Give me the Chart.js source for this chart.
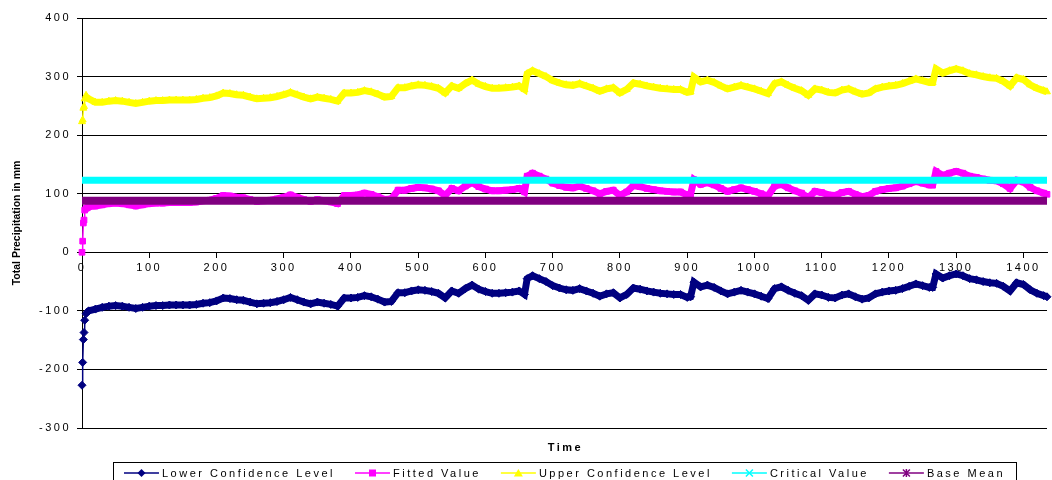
<!DOCTYPE html>
<html>
<head>
<meta charset="utf-8">
<script src="https://cdn.jsdelivr.net/npm/chart.js@4.4.0/dist/chart.umd.min.js"></script>
<style>
  html, body { margin: 0; padding: 0; background: #fff; }
</style>
</head>
<body>
<canvas id="precipChart" width="1052" height="480"></canvas>
<script>
// Time steps
const times = [0,1,2,3,4,6,8,
  10,20,30,40,50,60,70,80,90,100,110,120,130,140,150,160,170,180,190,200,
  210,220,230,240,250,260,270,280,290,300,310,320,330,340,350,360,370,380,390,400,
  410,420,430,440,450,460,470,480,490,500,510,520,530,540,550,560,570,580,590,600,
  610,620,630,640,650,658,662,670,680,690,700,710,720,730,740,750,760,
  770,780,790,800,810,820,830,840,850,860,870,880,890,900,905,
  910,920,930,940,950,960,970,980,990,1000,1010,1020,1030,1040,1050,1060,1070,1080,1090,1100,
  1110,1120,1130,1140,1150,1160,1170,1180,1190,1200,1210,1220,1230,1240,1250,1260,1265,
  1270,1280,1290,1300,1310,1320,1330,1340,1350,1360,1370,1380,1390,1400,1410,1420,1430,1435];

const lowerConfidence = [-227,-188,-149,-137,-116,-105,-102,
  -100,-97,-94,-92,-91,-92,-94,-96,-94,-92,
  -91,-91,-90,-90,-90,-90,-89,-87,-86,-83,
  -78,-79,-81,-82,-85,-88,-87,-86,-84,-81,
  -77,-81,-85,-88,-85,-87,-89,-92,-78,-78,
  -77,-74,-76,-80,-85,-84,-69,-69,-66,-64,
  -65,-67,-70,-78,-66,-70,-62,-56,-63,-67,
  -70,-70,-69,-68,-66,-72,-45,
  -40,-45,-50,-57,-61,-64,-65,-62,-66,-70,
  -75,-71,-69,-78,-72,-61,-63,-66,-68,-70,
  -71,-72,-72,-77,-76,
  -51,-59,-56,-60,-66,-71,-68,-65,-68,-71,
  -75,-79,-62,-59,-65,-70,-74,-82,-71,-73,
  -77,-78,-73,-71,-76,-80,-78,-71,-68,-66,
  -65,-62,-58,-54,-57,-60,-60,
  -37,-44,-40,-37,-40,-45,-47,-50,-52,-53,
  -58,-66,-52,-55,-64,-70,-74,-76];

const fittedValue = [0,19,50,55,72,75,76,
  78,79,81,83,84,83,81,79,81,83,
  84,84,85,85,85,85,86,88,89,92,
  97,96,94,93,90,87,88,89,91,94,
  98,94,90,87,90,88,86,83,97,97,
  98,101,99,95,90,91,106,106,109,111,
  110,108,105,97,109,105,113,119,112,108,
  105,105,106,107,109,103,130,
  135,130,125,118,114,111,110,113,109,105,
  100,104,106,97,103,114,112,109,107,105,
  104,103,103,98,99,
  124,116,119,115,109,104,107,110,107,104,
  100,96,113,116,110,105,101,93,104,102,
  98,97,102,104,99,95,97,104,107,109,
  110,113,117,121,118,115,115,
  138,131,135,138,135,130,128,125,123,122,
  117,109,123,120,111,105,101,99];

const upperConfidence = [223,226,246,249,262,268,264,
  262,256,256,258,259,258,256,254,256,258,
  259,259,260,260,260,260,261,263,264,267,
  272,271,269,268,265,262,263,264,266,269,
  273,269,265,262,265,263,261,258,272,272,
  273,276,274,270,265,266,281,281,284,286,
  285,283,280,272,284,280,288,294,287,283,
  280,280,281,282,284,278,305,
  310,305,300,293,289,286,285,288,284,280,
  275,279,281,272,278,289,287,284,282,280,
  279,278,278,273,274,
  299,291,294,290,284,279,282,285,282,279,
  275,271,288,291,285,280,276,268,279,277,
  273,272,277,279,274,270,272,279,282,284,
  285,288,292,296,293,290,290,
  313,306,310,313,310,305,303,300,298,297,
  292,284,298,295,286,280,276,274];

// constant reference lines
const lineTimes = [0, 1435];
const criticalValue = [123, 123];
const baseMean = [88, 88];

const xRange = [0, 1435];
const yRange = [-300, 400];

const FONT = '"Liberation Sans", Arial, sans-serif';
const SPACING = '2.5px';

const toPoints = (xs, ys) => xs.map((x, i) => ({ x: x, y: ys[i] }));

const series = [
  { label: 'Lower Confidence Level', color: '#000080', style: 'rectRot', data: toPoints(times, lowerConfidence) },
  { label: 'Fitted Value', color: '#FF00FF', style: 'rect', data: toPoints(times, fittedValue) },
  { label: 'Upper Confidence Level', color: '#FFFF00', style: 'triangle', data: toPoints(times, upperConfidence) },
  { label: 'Critical Value', color: '#00FFFF', style: 'crossRot', data: toPoints(lineTimes, criticalValue) },
  { label: 'Base Mean', color: '#800080', style: 'star', data: toPoints(lineTimes, baseMean) }
];

function drawMarker(ctx, style, color, x, y) {
  ctx.save();
  ctx.fillStyle = color;
  ctx.strokeStyle = color;
  ctx.lineWidth = 1.5;
  ctx.beginPath();
  if (style === 'rectRot') {
    ctx.moveTo(x, y - 4); ctx.lineTo(x + 4, y); ctx.lineTo(x, y + 4); ctx.lineTo(x - 4, y);
    ctx.closePath(); ctx.fill();
  } else if (style === 'rect') {
    ctx.fillRect(x - 3.5, y - 3.5, 7, 7);
  } else if (style === 'triangle') {
    ctx.moveTo(x, y - 4); ctx.lineTo(x + 4.5, y + 3.5); ctx.lineTo(x - 4.5, y + 3.5);
    ctx.closePath(); ctx.fill();
  } else if (style === 'crossRot') {
    ctx.moveTo(x - 3.5, y - 3.5); ctx.lineTo(x + 3.5, y + 3.5);
    ctx.moveTo(x + 3.5, y - 3.5); ctx.lineTo(x - 3.5, y + 3.5);
    ctx.stroke();
  } else {
    ctx.moveTo(x - 3.5, y - 3.5); ctx.lineTo(x + 3.5, y + 3.5);
    ctx.moveTo(x + 3.5, y - 3.5); ctx.lineTo(x - 3.5, y + 3.5);
    ctx.moveTo(x, y - 4); ctx.lineTo(x, y + 4);
    ctx.stroke();
  }
  ctx.restore();
}

// wide letter spacing like the original axis text
const spacingPlugin = {
  id: 'spacing',
  beforeLayout(chart) { chart.ctx.letterSpacing = SPACING; },
  beforeDraw(chart) { chart.ctx.letterSpacing = SPACING; }
};

// axis titles and the boxed legend at the bottom
const overlayPlugin = {
  id: 'overlay',
  afterDraw(chart) {
    const ctx = chart.ctx;
    const area = chart.chartArea;
    const cx = (area.left + area.right) / 2;

    ctx.save();
    ctx.letterSpacing = '0px';
    ctx.fillStyle = '#000';
    ctx.font = 'bold 10.5px ' + FONT;
    ctx.textAlign = 'center';
    ctx.textBaseline = 'middle';
    ctx.translate(17, (area.top + area.bottom) / 2);
    ctx.rotate(-Math.PI / 2);
    ctx.fillText('Total Precipitation in mm', 0, 0);
    ctx.restore();

    ctx.save();
    ctx.letterSpacing = SPACING;
    ctx.fillStyle = '#000';
    ctx.font = 'bold 11px ' + FONT;
    ctx.textAlign = 'center';
    ctx.textBaseline = 'middle';
    ctx.fillText('Time', cx + 1, 448);
    ctx.restore();

    ctx.save();
    ctx.letterSpacing = SPACING;
    ctx.font = '11px ' + FONT;
    const lineLen = 35, gap = 20;
    const widths = series.map(s => lineLen + 3 + ctx.measureText(s.label).width);
    const total = widths.reduce((a, b) => a + b, 0) + gap * (series.length - 1);
    const boxW = total + 22;
    ctx.strokeStyle = '#000';
    ctx.lineWidth = 1;
    ctx.strokeRect(Math.round(cx - boxW / 2) + 0.5, 462.5, Math.round(boxW), 30);
    let x = cx - total / 2;
    const ly = 473;
    series.forEach((s, i) => {
      ctx.strokeStyle = s.color;
      ctx.lineWidth = 1.5;
      ctx.beginPath();
      ctx.moveTo(x, ly);
      ctx.lineTo(x + lineLen, ly);
      ctx.stroke();
      drawMarker(ctx, s.style, s.color, x + lineLen / 2, ly);
      ctx.fillStyle = '#000';
      ctx.textAlign = 'left';
      ctx.textBaseline = 'middle';
      ctx.fillText(s.label, x + lineLen + 3, ly + 1);
      x += widths[i] + gap;
    });
    ctx.restore();
  }
};

Chart.defaults.font.family = FONT;
Chart.defaults.font.size = 11;
Chart.defaults.color = '#000';

const ctx = document.getElementById('precipChart').getContext('2d');
new Chart(ctx, {
  type: 'line',
  data: {
    datasets: series.map((s, i) => {
      const isConst = i >= 3;
      return {
        label: s.label,
        data: s.data,
        borderColor: s.color,
        backgroundColor: s.color,
        borderWidth: isConst ? (i === 4 ? 8 : 7) : 7,
        pointStyle: s.style,
        pointRadius: isConst ? 0 : 4,
        pointBorderWidth: 1,
        pointBackgroundColor: s.color,
        pointBorderColor: s.color,
        fill: false,
        tension: 0,
        clip: false,
        order: 5 - i,
        segment: isConst ? undefined : {
          borderWidth: c => (c.p1DataIndex <= 6 ? 1.5 : 7)
        }
      };
    })
  },
  options: {
    responsive: false,
    animation: false,
    layout: { padding: { top: 18, bottom: 52, left: 0, right: 0 } },
    plugins: {
      legend: { display: false },
      tooltip: { enabled: false },
      title: { display: false }
    },
    scales: {
      x: {
        type: 'linear',
        min: xRange[0],
        max: xRange[1],
        position: { y: 0 },
        ticks: {
          stepSize: 100, includeBounds: false, padding: 4, maxRotation: 0, autoSkip: false, color: '#000',
          callback: v => String(v)
        },
        grid: { drawOnChartArea: false, drawTicks: true, tickLength: 5, color: '#000' },
        border: { display: true, color: '#000' },
        afterFit(scale) { scale.height = 0; }
      },
      y: {
        type: 'linear',
        min: yRange[0],
        max: yRange[1],
        ticks: { stepSize: 100, padding: 6, color: '#000', callback: v => String(v) },
        grid: { color: '#000', tickLength: 5 },
        border: { display: true, color: '#000' },
        afterFit(scale) { scale.width = 82; }
      }
    }
  },
  plugins: [spacingPlugin, overlayPlugin]
});
</script>
</body>
</html>
